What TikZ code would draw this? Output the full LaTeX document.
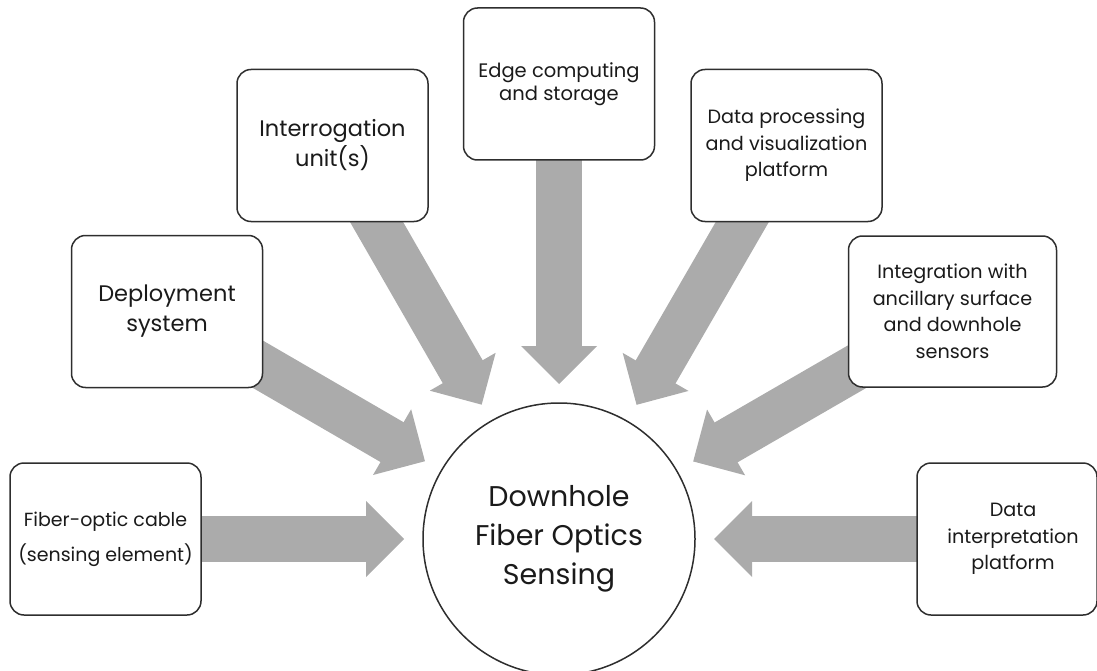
\documentclass[tikz,border=0pt]{standalone}
\usepackage{fontspec}
\setmainfont{Poppins}
\usetikzlibrary{calc,backgrounds}
\definecolor{arrowgray}{HTML}{ABABAB}
\definecolor{edgecol}{HTML}{2E2E2E}
\definecolor{ink}{HTML}{1A1A1A}
\newcommand\feedarrow[1]{%
  \coordinate (#1tip) at ($(c.center)!155pt!(#1.center)$);
  \coordinate (#1base) at ($(#1tip)!38pt!(#1.center)$);
  \coordinate (#1join) at ($(#1tip)!37pt!(#1.center)$);
  \draw[shaft] (#1.center) -- (#1join);
  \fill[arrowgray] (#1tip) -- ($(#1base)!38pt!90:(#1.center)$) -- ($(#1base)!38pt!-90:(#1.center)$) -- cycle;
}
\begin{document}
\begin{tikzpicture}[x=1pt,y=-1pt,
  box/.style={draw=edgecol, line width=1.5pt, rounded corners=14pt, fill=white,
    inner sep=0pt, align=center, text=ink, minimum width=191pt, minimum height=152pt},
  txt/.style={align=center, text=ink, inner sep=0pt},
  big/.style={font=\fontsize{22.5}{30}\selectfont},
  small/.style={font=\fontsize{19.2}{26.5}\selectfont},
  shaft/.style={draw=arrowgray, line width=46pt}]
\useasboundingbox (0,0) rectangle (1097,671);

\node[draw=edgecol, line width=1.5pt, circle, minimum size=272pt, inner sep=0pt,
  align=center, text=ink, font=\fontsize{28.5}{39}\selectfont] (c) at (559,539)
  {Downhole\\Fiber Optics\\Sensing};

\node[box, font=\fontsize{19}{35}\selectfont] (b1) at (105.5,539) {Fiber-optic cable\\(sensing element)};
\node[box, big] (b2) at (167,311.5) {Deployment\\system};
\node[box, big] (b3) at (332.5,145.5) {Interrogation\\unit(s)};
\node[box, font=\fontsize{19.5}{23.5}\selectfont] (b4) at (559,84) {Edge computing\\and storage};
\node[box, small] (b5) at (786.5,145.5) {Data processing\\and visualization\\platform};
\node[box, small, minimum width=208pt, minimum height=151pt] (b6) at (952.5,311.5)
  {Integration with\\ancillary surface\\and downhole\\sensors};
\node[box, minimum width=180pt] (b7) at (1007,539) {};
\node[txt, small] (t7) at (1013,539) {Data\\interpretation\\platform};

\begin{scope}[on background layer]
  \feedarrow{b1}
  \feedarrow{b2}
  \feedarrow{b3}
  \feedarrow{b4}
  \feedarrow{b5}
  \feedarrow{b6}
  \feedarrow{b7}
\end{scope}
\end{tikzpicture}
\end{document}
